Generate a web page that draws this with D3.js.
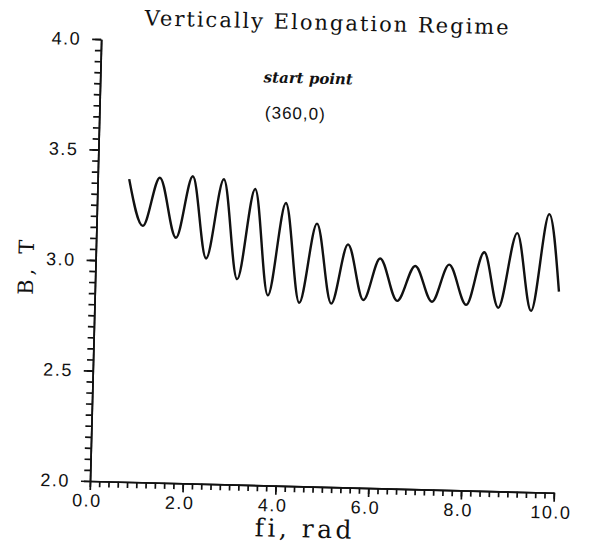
<!DOCTYPE html>
<html>
<head>
<meta charset="utf-8">
<script src="https://cdn.jsdelivr.net/npm/d3@7"></script>
<style>
  body { margin: 0; background: #fff; }
  .axis path, .axis line { stroke: #111; stroke-width: 1.7px; }
  .axis text { font-family: "Liberation Sans", Arial, sans-serif; font-size: 18px; fill: #111; letter-spacing: 1.5px; }
  .serif { font-family: "DejaVu Serif", "Liberation Serif", serif; fill: #111; }
</style>
</head>
<body>
<script>
// values: peaks and troughs of B along fi
const fiVals = [0.68, 1.00, 1.34, 1.72, 2.05, 2.38, 2.72, 3.06, 3.40, 3.73, 4.07, 4.41, 4.75, 5.10,
  5.43, 5.79, 6.13, 6.52, 6.89, 7.27, 7.62, 8.01, 8.37, 8.70, 9.07, 9.41, 9.75, 10.00];
const bVals = [3.37, 3.16, 3.38, 3.11, 3.39, 3.02, 3.38, 2.93, 3.34, 2.86, 3.28, 2.83, 3.19, 2.83,
  3.10, 2.85, 3.04, 2.85, 3.01, 2.85, 3.02, 2.84, 3.08, 2.83, 3.17, 2.82, 3.26, 2.91];
const xTicks = [0, 2, 4, 6, 8, 10];
const yTicks = [2.0, 2.5, 3.0, 3.5, 4.0];

const width = 590;
const height = 548;

const svg = d3.select("body").append("svg")
  .attr("width", width)
  .attr("height", height);

// the scan is slightly tilted, so the whole sheet is turned a little
const g = svg.append("g").attr("transform", "rotate(1.45,90,481)");

const x = d3.scaleLinear().domain([0, 10]).range([90, 554]);
const y = d3.scaleLinear().domain([2, 4]).range([481, 39]);

const minorX = d3.range(0, 51).map(function(i) { return i / 5; });
const minorY = d3.range(0, 41).map(function(i) { return 2 + i / 20; });

// minor ticks
g.append("g").attr("class", "axis")
  .attr("transform", "translate(0,481)")
  .call(d3.axisBottom(x).tickValues(minorX).tickSize(6).tickSizeOuter(0).tickFormat(""));
g.append("g").attr("class", "axis")
  .attr("transform", "translate(90,0)")
  .call(d3.axisLeft(y).tickValues(minorY).tickSize(6).tickSizeOuter(0).tickFormat(""));

// major ticks + labels
const xAxis = g.append("g").attr("class", "axis")
  .attr("transform", "translate(0,481)")
  .call(d3.axisBottom(x).tickValues(xTicks).tickSize(9).tickSizeOuter(0).tickPadding(4)
    .tickFormat(d3.format(".1f")));
xAxis.selectAll("text").attr("dx", "-3");

g.append("g").attr("class", "axis")
  .attr("transform", "translate(90,0)")
  .call(d3.axisLeft(y).tickValues(yTicks).tickSize(9).tickSizeOuter(0).tickPadding(11)
    .tickFormat(d3.format(".1f")));

const line = d3.line()
  .x(function(d) { return x(d[0]); })
  .y(function(d) { return y(d[1]); })
  .curve(d3.curveMonotoneX);

g.append("path")
  .datum(d3.zip(fiVals, bVals))
  .attr("fill", "none")
  .attr("stroke", "#111")
  .attr("stroke-width", 2.4)
  .attr("d", line);

// titles
g.append("text")
  .attr("class", "serif")
  .attr("x", 316).attr("y", 24)
  .attr("text-anchor", "middle")
  .attr("font-size", "21px")
  .attr("letter-spacing", "2px")
  .text("Vertically Elongation Regime");

g.append("text")
  .attr("class", "serif")
  .attr("x", 298).attr("y", 78)
  .attr("text-anchor", "middle")
  .attr("font-style", "italic")
  .attr("font-weight", "bold")
  .attr("font-size", "15px")
  .text("start point");

g.append("text")
  .attr("x", 286).attr("y", 114)
  .attr("text-anchor", "middle")
  .attr("font-family", "Liberation Sans, Arial, sans-serif")
  .attr("font-size", "17px")
  .attr("letter-spacing", "1px")
  .attr("fill", "#111")
  .text("(360,0)");

g.append("text")
  .attr("class", "serif")
  .attr("x", 306).attr("y", 532)
  .attr("text-anchor", "middle")
  .attr("font-size", "25px")
  .attr("letter-spacing", "3.5px")
  .text("fi, rad");

g.append("text")
  .attr("class", "serif")
  .attr("transform", "translate(28,267) rotate(-90)")
  .attr("text-anchor", "middle")
  .attr("font-size", "21px")
  .attr("letter-spacing", "4px")
  .text("B, T");
</script>
</body>
</html>
